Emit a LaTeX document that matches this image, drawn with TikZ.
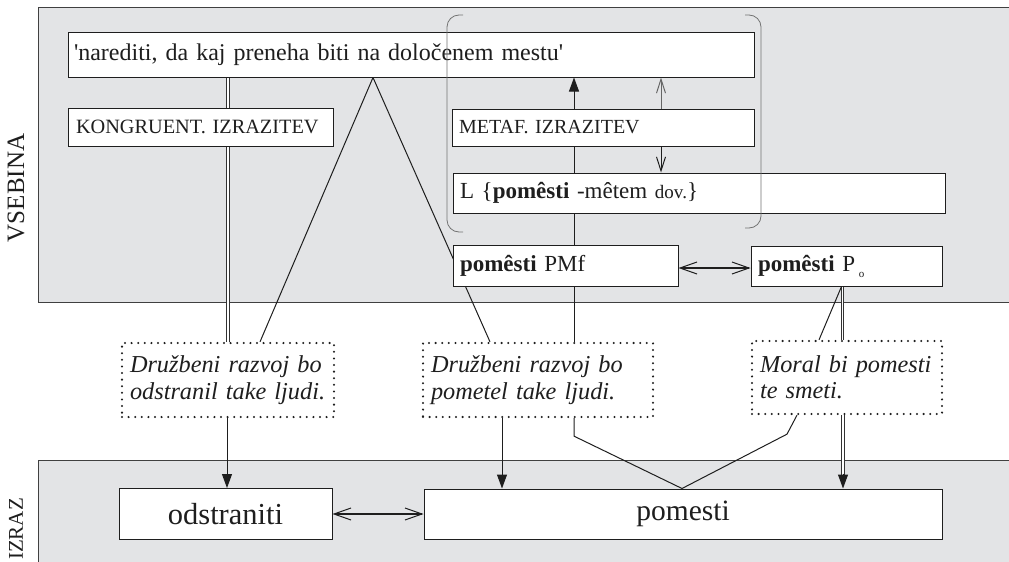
\documentclass[tikz,border=0pt]{standalone}
\usepackage{fontspec}
\setmainfont{Liberation Serif}
\usetikzlibrary{arrows.meta,calc}
\pgfdeclarelayer{bg}
\pgfdeclarelayer{lines}
\pgfsetlayers{bg,lines,main}
\definecolor{panelgrey}{RGB}{227,228,230}
\definecolor{ink}{RGB}{30,30,30}
\newcommand{\fs}[1]{\fontsize{#1}{#1}\selectfont}

\begin{document}
\begin{tikzpicture}[x=1pt,y=-1pt,
  panel/.style={draw=black!75,line width=0.9pt,fill=panelgrey},
  box/.style={draw=ink,line width=1pt,fill=white,inner ysep=0pt,align=left,text=ink},
  cbox/.style={draw=ink,line width=1pt,fill=white,inner sep=0pt,align=center,text=ink},
  note/.style={draw=ink,dash pattern=on 0pt off 6.6pt,line cap=round,line width=2.3pt,
               inner ysep=0pt,align=left,text=ink},
  conn/.style={draw=ink,line width=1pt},
  dbl/.style={draw=black!80,line width=0.9pt,double=white,double distance=1.3pt},
  headfill/.style={-{Triangle[length=14pt,width=10pt]}},
  barbs/.style={{Straight Barb[length=17pt,width=12pt,line width=1pt]}-{Straight Barb[length=17pt,width=12pt,line width=1pt]}},
  barb/.style={-{Straight Barb[length=14pt,width=9pt,line width=1pt]}},
  bracket/.style={draw=black!55,line width=0.8pt,rounded corners=12pt},
  side/.style={rotate=90,text=ink}
]
\useasboundingbox (0,0) rectangle (1009,562);

% content and expression bands
\begin{pgfonlayer}{bg}
  \path[panel] (38,7) rectangle (1015,302);
  \path[panel] (38,460) rectangle (1015,570);
\end{pgfonlayer}
\node[side,font=\fs{25}] (vsebina) at (16,188) {VSEBINA};
\node[side,font=\fs{21}] (izraz) at (16,529) {IZRAZ};

% boxes in the content band
\node[box,minimum width=686pt,minimum height=45pt,text width=674pt,inner xsep=6pt,font=\fs{24}]
  (top) at (411,54.5) {\textquotesingle narediti, da kaj preneha biti na določenem mestu\textquotesingle};
\node[box,minimum width=265pt,minimum height=38pt,text width=249pt,inner xsep=8pt,font=\fs{20.3}]
  (kong) at (200.5,127) {KONGRUENT. IZRAZITEV};
\node[box,minimum width=302pt,minimum height=37pt,text width=288pt,inner xsep=7pt,font=\fs{20}]
  (metaf) at (603,127.5) {METAF. IZRAZITEV};
\node[box,minimum width=492pt,minimum height=40pt,text width=478pt,inner xsep=7pt,font=\fs{23}]
  (lex) at (699,193) {L \{\textbf{pomêsti} -mêtem {\fs{19}dov.}\}};
\node[box,minimum width=225pt,minimum height=41pt,text width=211pt,inner xsep=7pt,font=\fs{23}]
  (pmf) at (565.5,265.5) {\textbf{pomêsti} PMf};
\node[box,minimum width=191pt,minimum height=40pt,text width=177pt,inner xsep=7pt,font=\fs{23}]
  (po) at (846.5,266) {\textbf{pomêsti} P\,\raisebox{-6pt}{\fs{11}o}};

% example sentences
\node[note,minimum width=212pt,minimum height=74pt,text width=196pt,inner xsep=8pt,font=\fs{24.3}\itshape]
  (d1) at (228,380) {Družbeni razvoj bo\\[2pt]odstranil take ljudi.};
\node[note,minimum width=230pt,minimum height=74pt,text width=214pt,inner xsep=8pt,font=\fs{24.3}\itshape]
  (d2) at (538,380) {Družbeni razvoj bo\\[2pt]pometel take ljudi.};
\node[note,minimum width=190pt,minimum height=73pt,text width=174pt,inner xsep=8pt,font=\fs{24.3}\itshape]
  (d3) at (847,377.5) {Moral bi pomesti\\[2pt]te smeti.};

% expression band
\node[cbox,minimum width=213pt,minimum height=51pt,font=\fs{30.5}] (odst) at (225.5,514) {odstraniti};
\node[cbox,minimum width=518pt,minimum height=50pt,font=\fs{29.5}] (pom) at (683,514) {pomesti};

% connectors running behind the boxes
\begin{pgfonlayer}{lines}
  \draw[dbl] (top.south -| d1.north) -- (d1.north);
  \draw[conn,headfill] ([xshift=36pt]d2.north) -- ([xshift=36pt]d2.north |- top.south);
  \coordinate (apex) at ([xshift=-38pt]top.south);
  \draw[conn] (apex) -- ([xshift=32pt]d1.north);
  \draw[conn] (apex) -- ([xshift=-48pt]d2.north);
\end{pgfonlayer}

% links between the metaphorical expression and its meanings
\draw[draw=black!60,barb] ([xshift=58pt]metaf.north) -- ([xshift=58pt]metaf.north |- top.south);
\draw[conn,barb] ([xshift=58pt]metaf.south) -- ([xshift=58pt]metaf.south |- lex.north);
\draw[conn,line width=1.5pt,barbs] ([yshift=-2.5pt]pmf.east) -- ([yshift=-2.5pt]pmf.east -| po.west);

% literal sense
\draw[dbl] ([xshift=-4pt]po.south) -- ([xshift=-4pt]po.south |- d3.north);
\draw[conn] ([xshift=-5pt]po.south) -- ([xshift=-28pt]d3.north);

% from sentences to word forms
\draw[conn,headfill] ([xshift=-1pt]d1.south) -- ([xshift=-1pt]d1.south |- odst.north);
\draw[conn,headfill] ([xshift=-36pt]d2.south) -- ([xshift=-36pt]d2.south |- pom.north);
\draw[dbl] ([xshift=-4pt]d3.south) -- ($([xshift=-4pt]d3.south |- pom.north)+(0,-12)$);
\draw[conn,headfill] ($([xshift=-4pt]d3.south |- pom.north)+(0,-15)$) -- ([xshift=-4pt]d3.south |- pom.north);
\coordinate (vtip) at ([xshift=-1pt]pom.north);
\draw[conn] ([xshift=36pt]d2.south) -- ++(0,18) -- (vtip) -- ($(d3.south)+(-60,19)$) -- ($(d3.south)+(-50,0)$);
\draw[conn,line width=1.5pt,barbs] (odst.east) -- (pom.west);

% bracket grouping the metaphor
\draw[bracket] (463,15) -- (447,15) -- (447,232) -- (463,232);
\draw[bracket] (745,15) -- (761,15) -- (761,228) -- (745,228);
\end{tikzpicture}
\end{document}
